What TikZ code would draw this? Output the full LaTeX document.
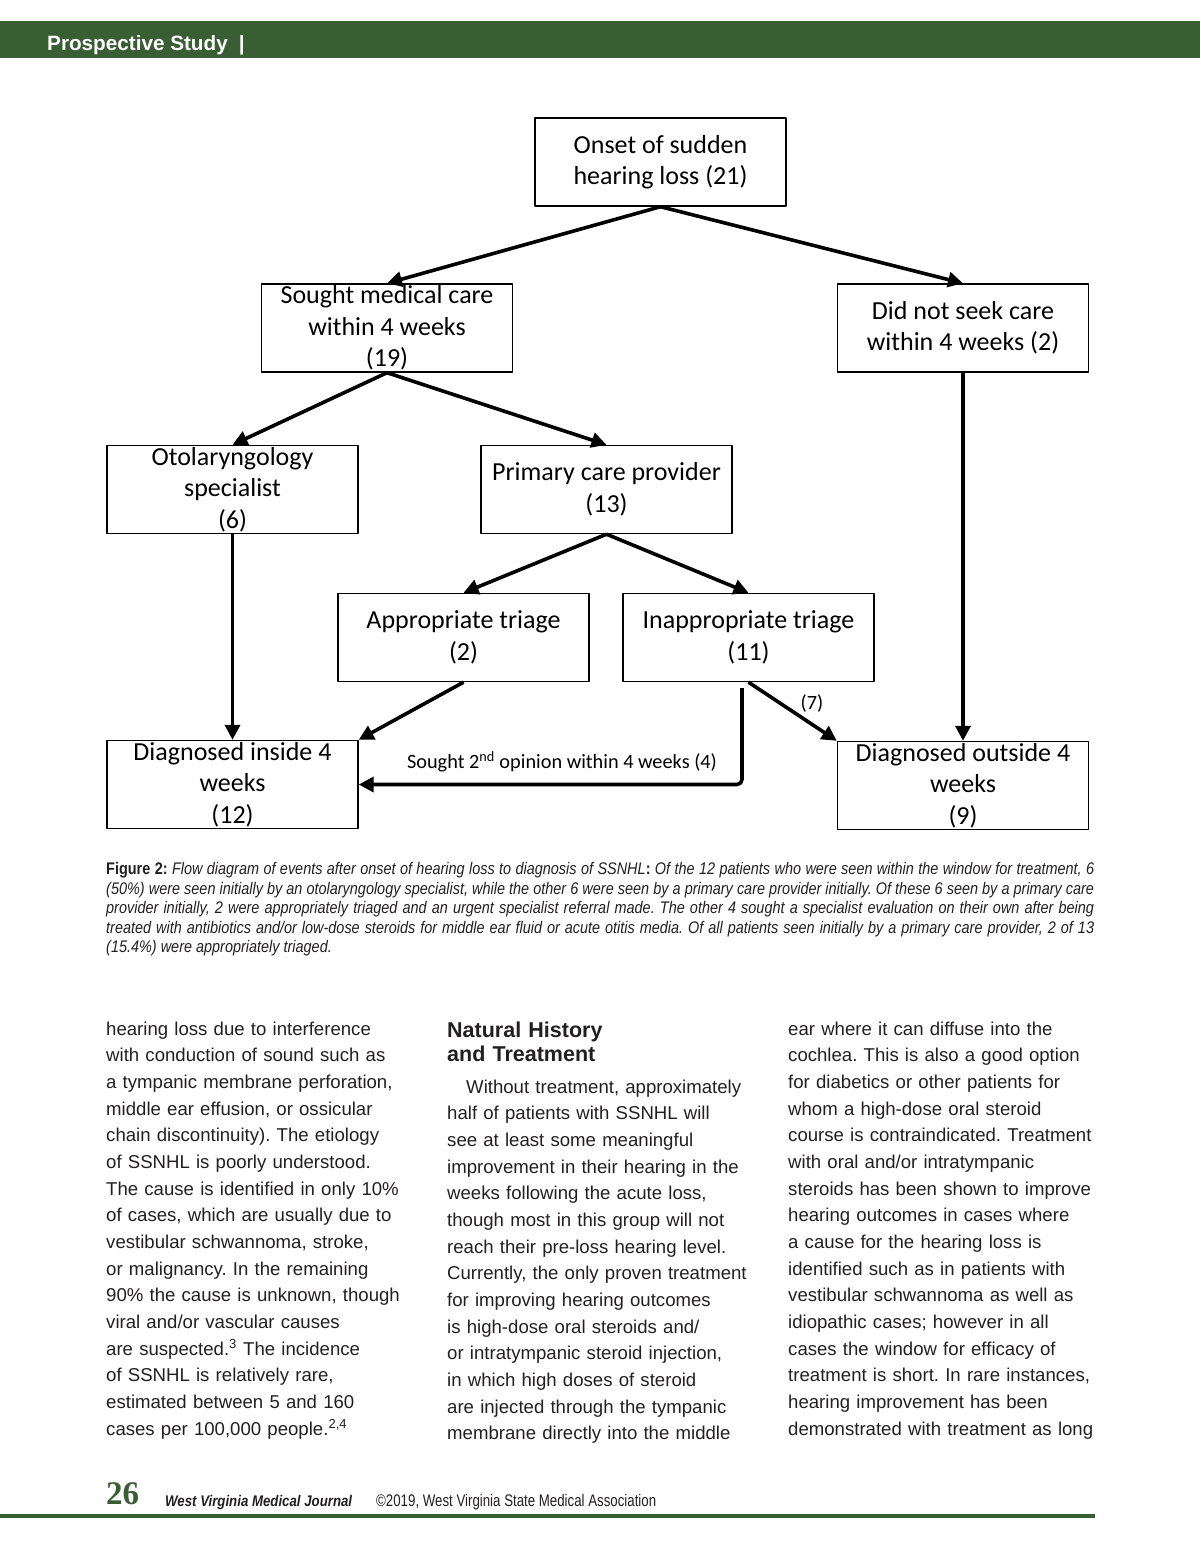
\documentclass[tikz,border=0pt]{standalone}
\usepackage{fontspec}
\setmainfont{Liberation Sans}
\newfontfamily\boxfont{Carlito}
\newfontfamily\narrowfont[FakeStretch=0.86]{Liberation Sans}
\newfontfamily\slimfont[FakeStretch=0.79]{Liberation Sans}
\newfontfamily\numfont{Liberation Serif}
\usetikzlibrary{arrows.meta}
\definecolor{wvgreen}{RGB}{58,94,51}
\definecolor{ink}{RGB}{35,31,32}
\frenchspacing

\begin{document}
\begin{tikzpicture}[x=1pt,y=-1pt,line join=round,
	box/.style={draw,line width=1.4pt,minimum width=251pt,minimum height=88pt,inner xsep=0pt,inner ysep=-4pt,align=center,font=\boxfont\fontsize{26}{31.5}\selectfont,execute at begin node={\rule{0pt}{31pt}}},
	flow/.style={line width=3.6pt,-{Triangle[length=15pt,width=15pt]}},
	lbl/.style={inner sep=0pt,font=\boxfont\fontsize{20.3}{24}\selectfont},
	column/.style={anchor=north west,inner sep=0pt,text width=320pt,align=left,text=ink,font=\fontsize{18.6}{26.67}\selectfont}]
	\useasboundingbox (0,0) rectangle (1200,1553);
	% running head
	\fill[wvgreen] (0,21) rectangle (1200,58);
	\node[anchor=base west,inner sep=0pt,text=white,font=\bfseries\fontsize{20.7}{24}\selectfont] (runhead) at (47,50) {Prospective Study\hspace{11pt}|};
	% flow diagram
	\node[box] (onset) at (660.5,162) {Onset of sudden\\hearing loss (21)};
	\node[box] (sought) at (387,328) {Sought medical care\\within 4 weeks\\(19)};
	\node[box] (nocare) at (963,328) {Did not seek care\\within 4 weeks (2)};
	\node[box] (oto) at (232.5,489.5) {Otolaryngology\\specialist\\(6)};
	\node[box] (pcp) at (606.5,489.5) {Primary care provider\\(13)};
	\node[box] (approp) at (463.5,637.5) {Appropriate triage\\(2)};
	\node[box] (inapprop) at (748.5,637.5) {Inappropriate triage\\(11)};
	\node[box] (dxin) at (232.5,784.5) {Diagnosed inside 4\\weeks\\(12)};
	\node[box] (dxout) at (963,785.5) {Diagnosed outside 4\\weeks\\(9)};
	\draw[flow] (onset.south) -- (sought.north);
	\draw[flow] (onset.south) -- (nocare.north);
	\draw[flow] (sought.south) -- (oto.north);
	\draw[flow] (sought.south) -- (pcp.north);
	\draw[flow] (oto.south) -- (dxin.north);
	\draw[flow] (nocare.south) -- (dxout.north);
	\draw[flow] (pcp.south) -- (approp.north);
	\draw[flow] (pcp.south) -- (inapprop.north);
	\draw[flow] (approp.south) -- (dxin.north east);
	\draw[flow] (inapprop.south) -- (dxout.north west);
	\node[lbl] (seven) at (812,703) {(7)};
	\coordinate (turn) at (742,688);
	\draw[flow,rounded corners=5pt] (turn) -- (turn |- dxin.east) -- (dxin.east);
	\node[lbl] (second) at (562,762) {Sought 2\textsuperscript{nd} opinion within 4 weeks (4)};
	% caption
	\node[anchor=north west,inner sep=0pt,text width=988pt,align=justify,text=ink,font=\narrowfont\fontsize{16.8}{19.5}\selectfont] (caption) at (106,861)
	{\noindent\strut\textbf{Figure 2:} \textit{Flow diagram of events after onset of hearing loss to diagnosis of SSNHL}\textbf{:} \textit{Of the 12 patients who were seen within the window for treatment, 6\linebreak
	(50\%) were seen initially by an otolaryngology specialist, while the other 6 were seen by a primary care provider initially. Of these 6 seen by a primary care\linebreak
	provider initially, 2 were appropriately triaged and an urgent specialist referral made. The other 4 sought a specialist evaluation on their own after being\linebreak
	treated with antibiotics and/or low-dose steroids for middle ear fluid or acute otitis media. Of all patients seen initially by a primary care provider, 2 of 13\linebreak
	(15.4\%) were appropriately triaged.}};
	% body text
	\node[column] (colone) at (106,1016.3) {\strut hearing loss due to interference\\
	with conduction of sound such as\\
	a tympanic membrane perforation,\\
	middle ear effusion, or ossicular\\
	chain discontinuity). The etiology\\
	of SSNHL is poorly understood.\\
	The cause is identified in only 10\%\\
	of cases, which are usually due to\\
	vestibular schwannoma, stroke,\\
	or malignancy. In the remaining\\
	90\% the cause is unknown, though\\
	viral and/or vascular causes\\
	are suspected.\textsuperscript{3} The incidence\\
	of SSNHL is relatively rare,\\
	estimated between 5 and 160\\
	cases per 100,000 people.\textsuperscript{2,4}};
	\node[column,font=\bfseries\fontsize{21.5}{24}\selectfont] (heading) at (447,1020) {\strut Natural History\\and Treatment};
	\node[column] (coltwo) at (447,1074.3) {\strut\hspace*{19pt}Without treatment, approximately\\
	half of patients with SSNHL will\\
	see at least some meaningful\\
	improvement in their hearing in the\\
	weeks following the acute loss,\\
	though most in this group will not\\
	reach their pre-loss hearing level.\\
	Currently, the only proven treatment\\
	for improving hearing outcomes\\
	is high-dose oral steroids and/\\
	or intratympanic steroid injection,\\
	in which high doses of steroid\\
	are injected through the tympanic\\
	membrane directly into the middle};
	\node[column] (colthree) at (788,1016.3) {\strut ear where it can diffuse into the\\
	cochlea. This is also a good option\\
	for diabetics or other patients for\\
	whom a high-dose oral steroid\\
	course is contraindicated. Treatment\\
	with oral and/or intratympanic\\
	steroids has been shown to improve\\
	hearing outcomes in cases where\\
	a cause for the hearing loss is\\
	identified such as in patients with\\
	vestibular schwannoma as well as\\
	idiopathic cases; however in all\\
	cases the window for efficacy of\\
	treatment is short. In rare instances,\\
	hearing improvement has been\\
	demonstrated with treatment as long};
	% footer
	\node[anchor=base west,inner sep=0pt,text=wvgreen,font=\numfont\bfseries\fontsize{33}{34}\selectfont] (pagenum) at (106,1504) {26};
	\node[anchor=base west,inner sep=0pt,text=ink,font=\narrowfont\bfseries\itshape\fontsize{15.4}{18}\selectfont] (journal) at (165,1506) {West Virginia Medical Journal};
	\node[anchor=base west,inner sep=0pt,text=ink,font=\slimfont\fontsize{16.8}{19}\selectfont] (copyright) at (376,1506) {\textcopyright 2019, West Virginia State Medical Association};
	\draw[wvgreen,line width=4pt] (0,1516) -- (1095,1516);
\end{tikzpicture}
\end{document}
